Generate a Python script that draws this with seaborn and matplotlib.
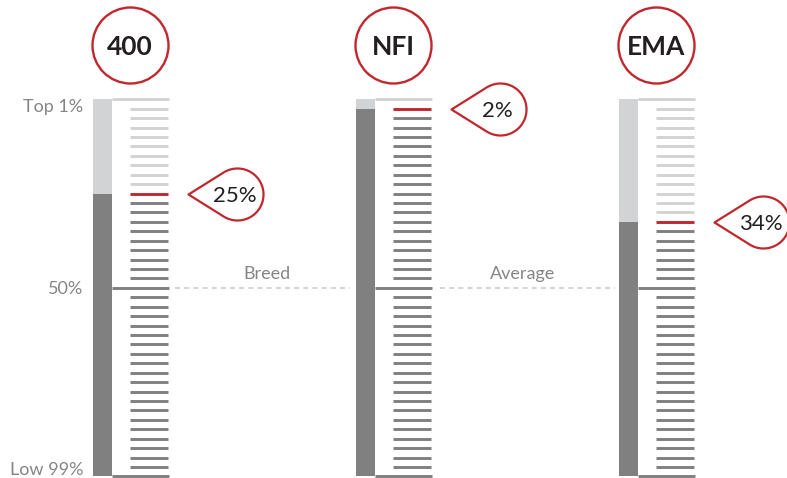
import matplotlib.pyplot as plt
import numpy as np
import seaborn as sns
from matplotlib.path import Path

# values
traits = ["400", "NFI", "EMA"]
percentile_labels = ["25%", "2%", "34%"]
marker_levels = [25.0, 2.5, 32.5]   # rung (0 = top, 100 = bottom) that is highlighted red
scale_labels = ["Top 1%", "50%", "Low 99%"]
divider_labels = ["Breed", "Average"]

RED = "#c1272d"
DARK = "#808080"
LIGHT = "#d1d3d4"
TEXT_GREY = "#858585"
INK = "#231f20"

sns.set_theme(style="white")
plt.rcParams['font.family'] = ['Lato', 'DejaVu Sans']

fig = plt.figure(figsize=(7.87, 4.78), dpi=100)
ax = fig.add_axes([0, 0, 1, 1])

# thick bar: dark for the whole scale, light part covers everything above the marker
sns.barplot(x=traits, y=[100] * len(traits), color=DARK, width=0.072, saturation=1,
            errorbar=None, linewidth=0, ax=ax)
sns.barplot(x=traits, y=marker_levels, color=LIGHT, width=0.072, saturation=1,
            errorbar=None, linewidth=0, ax=ax)

# rungs every 2.5%
rungs = np.arange(0, 100.1, 2.5)
for i, level in enumerate(marker_levels):
    for r in rungs:
        if r in (0, 50, 100):
            x0, x1 = i + 0.036, i + 0.253
        else:
            x0, x1 = i + 0.105, i + 0.249
        if np.isclose(r, level):
            color = RED
        elif r < level:
            color = LIGHT
        else:
            color = DARK
        ax.plot([x0, x1], [r, r], color=color, lw=2.1, solid_capstyle='butt', zorder=3)

# header circles
pos = np.arange(len(traits))
sns.scatterplot(x=pos + 0.105, y=[-14.5] * len(traits), s=2995, color="white",
                edgecolor=RED, linewidth=1.7, clip_on=False, zorder=4, ax=ax)
for i, t in enumerate(traits):
    ax.text(i + 0.105, -14.5, t, ha='center', va='center_baseline', fontsize=19,
            fontweight='bold', color=INK, zorder=5)

# teardrop callouts pointing at the red rung
theta = np.linspace(np.radians(122), np.radians(-122), 60)
cx, rad = 49, 26
verts = [(0, 0)] + list(zip(cx + rad * np.cos(theta), rad * np.sin(theta))) + [(0, 0)]
codes = [Path.MOVETO] + [Path.LINETO] * (len(verts) - 2) + [Path.CLOSEPOLY]
drop = Path(verts, codes)
for i, (level, lab) in enumerate(zip(marker_levels, percentile_labels)):
    ax.plot(i + 0.327, level, marker=drop, markersize=108, mfc='white', mec=RED,
            mew=1.6, ls='none', clip_on=False, zorder=4)
    ax.text(i + 0.502, level, lab, ha='center', va='center_baseline', fontsize=16,
            color=INK, zorder=5)

# breed average dashed guide
for x0, x1 in [(0.276, 0.941), (1.283, 1.949)]:
    ax.plot([x0, x1], [50, 50], color="#d5d5d5", lw=1.5, ls=(0, (2.4, 2)), zorder=2)
ax.text(0.625, 47.6, divider_labels[0], ha='center', va='baseline', fontsize=13, color=TEXT_GREY)
ax.text(1.599, 47.6, divider_labels[1], ha='center', va='baseline', fontsize=13, color=TEXT_GREY)

# scale labels left of first gauge
for lab, y, va in zip(scale_labels, [3.4, 50.3, 99.5], ['baseline', 'center', 'baseline']):
    ax.text(-0.074, y, lab, ha='right', va=va, fontsize=13, color=TEXT_GREY)

ax.set_xlim(-0.3897, 2.6027)
ax.set_ylim(100.4, -26.3)
ax.axis('off')

fig.savefig('out.png', dpi=100)
